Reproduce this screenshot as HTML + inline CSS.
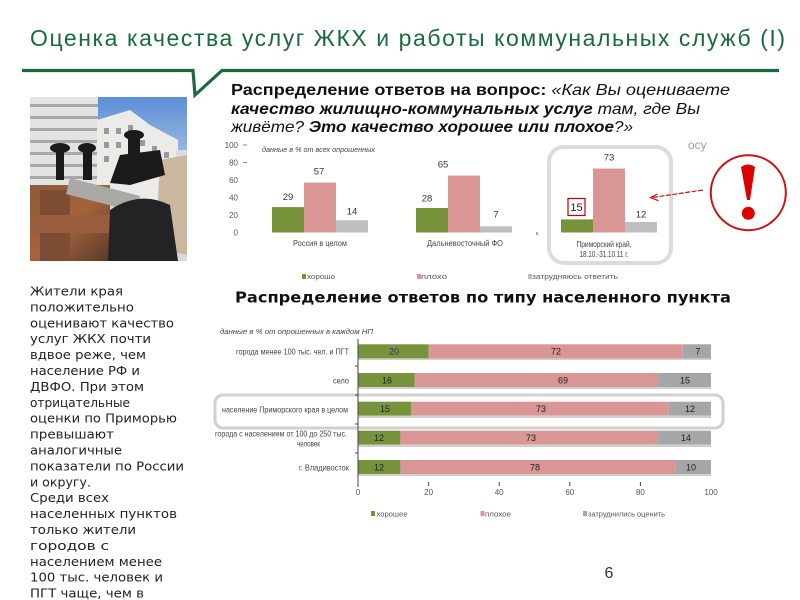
<!DOCTYPE html>
<html><head><meta charset="utf-8"><style>
html,body{margin:0;padding:0;background:#fff;}
svg{display:block;}
</style></head><body>
<svg width="800" height="600" viewBox="0 0 800 600" xmlns="http://www.w3.org/2000/svg" font-family="'Liberation Sans', 'DejaVu Sans', sans-serif">
<rect width="800" height="600" fill="#fff"/>

<!-- Title -->
<text x="30" y="46" font-size="23" fill="#1a6b3c" textLength="755" lengthAdjust="spacing">Оценка качества услуг ЖКХ и работы коммунальных служб (I)</text>

<!-- green line with notch -->
<polyline points="22,70.5 193,70.5 195,95 222,70.5 779,70.5" fill="none" stroke="#1c6b3c" stroke-width="3.2" stroke-linejoin="miter"/>

<!-- Subtitle -->
<text x="231" y="95" font-size="16" fill="#111" textLength="499" lengthAdjust="spacingAndGlyphs"><tspan font-weight="bold">Распределение ответов на вопрос:</tspan><tspan font-style="italic"> «Как Вы оцениваете</tspan></text>
<text x="231" y="114" font-size="16" fill="#111" textLength="469" lengthAdjust="spacingAndGlyphs"><tspan font-weight="bold" font-style="italic">качество жилищно-коммунальных услуг</tspan><tspan font-style="italic"> там, где Вы</tspan></text>
<text x="231" y="132" font-size="16" fill="#111" textLength="402" lengthAdjust="spacingAndGlyphs"><tspan font-style="italic">живёте? </tspan><tspan font-weight="bold" font-style="italic">Это качество хорошее или плохое</tspan><tspan font-style="italic">?»</tspan></text>

<!-- Photo -->
<defs><clipPath id="ph"><rect x="30" y="97" width="157" height="164"/></clipPath>
<linearGradient id="sky" x1="0" y1="0" x2="0" y2="1"><stop offset="0" stop-color="#5d8fd6"/><stop offset="1" stop-color="#9cbbe3"/></linearGradient>
<linearGradient id="rust" x1="0" y1="0" x2="1" y2="1"><stop offset="0" stop-color="#8a5a3c"/><stop offset="0.5" stop-color="#a5633c"/><stop offset="1" stop-color="#5a3a2a"/></linearGradient>
</defs>
<g clip-path="url(#ph)">
<rect x="30" y="97" width="157" height="164" fill="#d8d8d8"/>
<rect x="97" y="97" width="90" height="60" fill="url(#sky)"/>
<!-- left building -->
<rect x="30" y="97" width="68" height="115" fill="#e3e3e1"/>
<g fill="#a8a8a8">
<rect x="30" y="104" width="68" height="3"/><rect x="30" y="116" width="68" height="3"/><rect x="30" y="128" width="68" height="3"/><rect x="30" y="140" width="68" height="3"/><rect x="30" y="152" width="68" height="3"/><rect x="30" y="164" width="68" height="3"/><rect x="30" y="176" width="68" height="3"/>
</g>
<!-- right building -->
<polygon points="97,120 130,110 150,125 178,140 178,200 97,200" fill="#ecebe8"/>
<g fill="#9a9a9e">
<rect x="104" y="128" width="5" height="6"/><rect x="116" y="128" width="5" height="6"/><rect x="128" y="125" width="5" height="6"/><rect x="104" y="142" width="5" height="6"/><rect x="116" y="142" width="5" height="6"/><rect x="140" y="140" width="5" height="6"/><rect x="152" y="146" width="5" height="6"/><rect x="164" y="152" width="5" height="6"/><rect x="104" y="156" width="5" height="6"/><rect x="152" y="160" width="5" height="6"/><rect x="164" y="166" width="5" height="6"/>
</g>
<rect x="176" y="150" width="11" height="50" fill="#dcdcdc"/>
<!-- insulation -->
<polygon points="160,160 187,155 187,255 165,250 158,200" fill="#c9b7a0"/>
<!-- valves -->
<g fill="#1a1a1a">
<ellipse cx="60" cy="148" rx="10" ry="5"/><rect x="56" y="148" width="8" height="32"/>
<ellipse cx="87" cy="148" rx="9" ry="5"/><rect x="83" y="148" width="9" height="32"/>
<ellipse cx="134" cy="135" rx="10" ry="5"/><rect x="128" y="135" width="12" height="25"/>
<polygon points="120,155 160,150 165,175 130,185 110,183"/>
</g>
<!-- rusty pipes -->
<rect x="30" y="185" width="80" height="76" fill="url(#rust)"/>
<rect x="40" y="190" width="30" height="71" fill="#7e4c33"/>
<rect x="30" y="215" width="80" height="18" fill="#9a5e3e"/>
<!-- gray pipe -->
<polygon points="70,178 140,196 136,212 66,194" fill="#a9a9a6"/>
<!-- big black pipe -->
<path d="M110,210 Q140,190 170,205 L178,261 L108,261 Z" fill="#232325"/>
</g>

<!-- Left paragraph -->
<g font-family="'DejaVu Sans', 'Liberation Sans', sans-serif" font-size="12.5" fill="#222">
<text x="30" y="295.5" textLength="93" lengthAdjust="spacingAndGlyphs">Жители края</text>
<text x="30" y="311.4" textLength="104" lengthAdjust="spacingAndGlyphs">положительно</text>
<text x="30" y="327.3" textLength="144" lengthAdjust="spacingAndGlyphs">оценивают качество</text>
<text x="30" y="343.2" textLength="121" lengthAdjust="spacingAndGlyphs">услуг ЖКХ почти</text>
<text x="30" y="359.1" textLength="116" lengthAdjust="spacingAndGlyphs">вдвое реже, чем</text>
<text x="30" y="375" textLength="110" lengthAdjust="spacingAndGlyphs">население РФ и</text>
<text x="30" y="390.9" textLength="114" lengthAdjust="spacingAndGlyphs">ДВФО. При этом</text>
<text x="30" y="406.8" textLength="100" lengthAdjust="spacingAndGlyphs">отрицательные</text>
<text x="30" y="422.7" textLength="147" lengthAdjust="spacingAndGlyphs">оценки по Приморью</text>
<text x="30" y="438.6" textLength="84" lengthAdjust="spacingAndGlyphs">превышают</text>
<text x="30" y="454.5" textLength="92" lengthAdjust="spacingAndGlyphs">аналогичные</text>
<text x="30" y="470.4" textLength="154" lengthAdjust="spacingAndGlyphs">показатели по России</text>
<text x="30" y="486.3" textLength="61" lengthAdjust="spacingAndGlyphs">и округу.</text>
<text x="30" y="502.2" textLength="79" lengthAdjust="spacingAndGlyphs">Среди всех</text>
<text x="30" y="518.1" textLength="147" lengthAdjust="spacingAndGlyphs">населенных пунктов</text>
<text x="30" y="534" textLength="106" lengthAdjust="spacingAndGlyphs">только жители</text>
<text x="30" y="549.9" textLength="79" lengthAdjust="spacingAndGlyphs">городов с</text>
<text x="30" y="565.8" textLength="132" lengthAdjust="spacingAndGlyphs">населением менее</text>
<text x="30" y="581.7" textLength="133" lengthAdjust="spacingAndGlyphs">100 тыс. человек и</text>
<text x="30" y="597.6" textLength="114" lengthAdjust="spacingAndGlyphs">ПГТ чаще, чем в</text>
</g>

<!-- Top chart -->
<rect x="549" y="147" width="122" height="116" rx="15" ry="15" fill="#fff" stroke="#dcdcdc" stroke-width="4"/>
<g font-size="8" fill="#555" text-anchor="end">
<text x="238" y="148">100</text><text x="238" y="165.5">80</text><text x="238" y="183">60</text><text x="238" y="200.5">40</text><text x="238" y="218">20</text><text x="238" y="235.5">0</text>
</g>
<line x1="243" y1="145" x2="247" y2="145" stroke="#666" stroke-width="0.8"/>
<line x1="243" y1="162.5" x2="247" y2="162.5" stroke="#666" stroke-width="0.8"/>
<text x="262" y="152" font-size="7.5" font-style="italic" fill="#444" textLength="113" lengthAdjust="spacingAndGlyphs">данные в % от всех опрошенных</text>

<!-- group 1 -->
<rect x="272" y="207.1" width="32" height="25.4" fill="#77933c"/>
<rect x="304" y="182.6" width="32" height="49.9" fill="#d99694"/>
<rect x="336" y="220.2" width="32" height="12.3" fill="#bfbfbf"/>
<!-- group 2 -->
<rect x="416" y="208" width="32" height="24.5" fill="#77933c"/>
<rect x="448" y="175.6" width="32" height="56.9" fill="#d99694"/>
<rect x="480" y="226.4" width="32" height="6.1" fill="#bfbfbf"/>
<!-- group 3 -->
<rect x="561" y="219.4" width="32" height="13.1" fill="#77933c"/>
<rect x="593" y="168.6" width="32" height="63.9" fill="#d99694"/>
<rect x="625" y="222" width="32" height="10.5" fill="#bfbfbf"/>

<g font-size="9.5" fill="#333" text-anchor="middle">
<text x="288" y="200">29</text><text x="319" y="174.5">57</text><text x="352" y="214.5">14</text>
<text x="427" y="201.5">28</text><text x="443" y="167.5">65</text><text x="496" y="217.5">7</text>
<text x="609" y="160.5">73</text><text x="641" y="217.5">12</text>
</g>
<rect x="568" y="198.5" width="17" height="17" fill="#fff" stroke="#c00000" stroke-width="1.2"/>
<text x="576.5" y="211" font-size="11" fill="#222" text-anchor="middle">15</text>

<g font-size="8" fill="#444" text-anchor="middle">
<text x="320" y="246" textLength="54" lengthAdjust="spacingAndGlyphs">Россия в целом</text>
<text x="465" y="246" textLength="76" lengthAdjust="spacingAndGlyphs">Дальневосточный ФО</text>
<text x="604" y="247" textLength="55" lengthAdjust="spacingAndGlyphs">Приморский край,</text>
<text x="604" y="257" textLength="49" lengthAdjust="spacingAndGlyphs">18.10.-31.10.11 г.</text>
</g>
<rect x="536.5" y="232" width="1" height="3" fill="#555"/>

<!-- top legend -->
<rect x="302" y="274" width="4" height="5" fill="#77933c"/>
<text x="307" y="279" font-size="7.5" fill="#555" textLength="28" lengthAdjust="spacingAndGlyphs">хорошо</text>
<rect x="417" y="274" width="4" height="5" fill="#d99694"/>
<text x="421" y="279" font-size="7.5" fill="#555" textLength="26" lengthAdjust="spacingAndGlyphs">плохо</text>
<rect x="528" y="274" width="4" height="5" fill="#bfbfbf"/>
<text x="532" y="279" font-size="7.5" fill="#555" textLength="86" lengthAdjust="spacingAndGlyphs">затрудняюсь ответить</text>

<text x="688" y="149" font-size="12" fill="#999">осу</text>

<!-- Exclamation -->
<circle cx="748.3" cy="192.7" r="37.5" fill="#fff" stroke="#cc1111" stroke-width="2"/>
<path d="M741,167 Q748,162 755,167 L750,200 L747,200 Z" fill="#dd0000"/>
<circle cx="748.3" cy="213.3" r="6.5" fill="#dd0000"/>
<!-- arrow -->
<line x1="703" y1="190" x2="651" y2="197.7" stroke="#cc1111" stroke-width="1.2" stroke-dasharray="5,1.5"/>
<polyline points="657.5,194 650.5,197.7 658.5,200.7" fill="none" stroke="#cc1111" stroke-width="1.2"/>

<!-- Section 2 header -->
<text x="235" y="302.5" font-family="'DejaVu Sans', 'Liberation Sans', sans-serif" font-size="15" font-weight="bold" fill="#111" textLength="496" lengthAdjust="spacingAndGlyphs">Распределение ответов по типу населенного пункта</text>

<!-- Horizontal chart -->
<text x="220" y="334" font-size="7.5" font-style="italic" fill="#444" textLength="153" lengthAdjust="spacingAndGlyphs">данные в % от опрошенных в каждом НП</text>

<rect x="215" y="395" width="508" height="33" rx="8" ry="8" fill="#fff" stroke="#d0d0d0" stroke-width="3"/>

<g fill="#cfcfcf">
<rect x="358" y="358" width="353" height="2"/>
<rect x="358" y="387" width="353" height="2"/>
<rect x="358" y="416" width="353" height="2"/>
<rect x="358" y="445" width="353" height="2"/>
<rect x="358" y="474" width="353" height="2"/>
</g>
<!-- row1 -->
<rect x="358" y="344.3" width="70.6" height="14" fill="#77933c"/>
<rect x="428.6" y="344.3" width="254.2" height="14" fill="#d99694"/>
<rect x="682.8" y="344.3" width="28.2" height="14" fill="#a6a6a6"/>
<!-- row2 -->
<rect x="358" y="373" width="56.5" height="14" fill="#77933c"/>
<rect x="414.5" y="373" width="243.6" height="14" fill="#d99694"/>
<rect x="658.1" y="373" width="52.9" height="14" fill="#a6a6a6"/>
<!-- row3 -->
<rect x="358" y="401.7" width="53" height="14" fill="#77933c"/>
<rect x="411" y="401.7" width="257.7" height="14" fill="#d99694"/>
<rect x="668.7" y="401.7" width="42.3" height="14" fill="#a6a6a6"/>
<!-- row4 -->
<rect x="358" y="430.7" width="42.4" height="14" fill="#77933c"/>
<rect x="400.4" y="430.7" width="257.7" height="14" fill="#d99694"/>
<rect x="658.1" y="430.7" width="52.9" height="14" fill="#a6a6a6"/>
<!-- row5 -->
<rect x="358" y="460" width="42.4" height="14" fill="#77933c"/>
<rect x="400.4" y="460" width="275.3" height="14" fill="#d99694"/>
<rect x="675.7" y="460" width="35.3" height="14" fill="#a6a6a6"/>

<!-- axes -->
<line x1="358" y1="339" x2="358" y2="487" stroke="#444" stroke-width="1"/>
<g stroke="#444" stroke-width="1">
<line x1="355" y1="366" x2="358" y2="366"/><line x1="355" y1="395" x2="358" y2="395"/><line x1="355" y1="424" x2="358" y2="424"/><line x1="355" y1="453" x2="358" y2="453"/>
<line x1="428.6" y1="482" x2="428.6" y2="486"/><line x1="499.2" y1="482" x2="499.2" y2="486"/><line x1="569.8" y1="482" x2="569.8" y2="486"/><line x1="640.4" y1="482" x2="640.4" y2="486"/>
</g>
<g font-size="8" fill="#555" text-anchor="middle">
<text x="358" y="495">0</text><text x="428.6" y="495">20</text><text x="499.2" y="495">40</text><text x="569.8" y="495">60</text><text x="640.4" y="495">80</text><text x="711" y="495">100</text>
</g>

<!-- row labels -->
<g font-size="8" fill="#444" text-anchor="end">
<text x="349" y="354.5" textLength="113" lengthAdjust="spacingAndGlyphs">города менее 100 тыс. чел. и ПГТ</text>
<text x="349" y="383.5" textLength="16" lengthAdjust="spacingAndGlyphs">село</text>
<text x="348" y="412.5" textLength="126" lengthAdjust="spacingAndGlyphs">население Приморского края в целом</text>
<text x="347" y="436.5" textLength="132" lengthAdjust="spacingAndGlyphs">города с населением от 100 до 250 тыс.</text>
<text x="320" y="446.5" textLength="23" lengthAdjust="spacingAndGlyphs">человек</text>
<text x="349" y="470.5" textLength="50" lengthAdjust="spacingAndGlyphs">г. Владивосток</text>
</g>

<!-- values -->
<g font-size="9" fill="#222" text-anchor="middle">
<text x="394" y="354.5" fill="#1f3864">20</text><text x="556" y="354.5">72</text><text x="698" y="354.5">7</text>
<text x="387" y="383.5">16</text><text x="563" y="383.5">69</text><text x="685" y="383.5">15</text>
<text x="385" y="412">15</text><text x="541" y="412">73</text><text x="690" y="412">12</text>
<text x="379" y="441">12</text><text x="531" y="441">73</text><text x="686" y="441">14</text>
<text x="379" y="470.5">12</text><text x="535" y="470.5">78</text><text x="691" y="470.5">10</text>
</g>

<!-- bottom legend -->
<rect x="371" y="511" width="4" height="5" fill="#77933c"/>
<text x="376.5" y="516.5" font-size="7.5" fill="#555" textLength="31" lengthAdjust="spacingAndGlyphs">хорошее</text>
<rect x="480.5" y="511" width="4" height="5" fill="#d99694"/>
<text x="485" y="516.5" font-size="7.5" fill="#555" textLength="26" lengthAdjust="spacingAndGlyphs">плохое</text>
<rect x="583" y="511" width="4" height="5" fill="#a6a6a6"/>
<text x="588" y="516.5" font-size="7.5" fill="#555" textLength="77" lengthAdjust="spacingAndGlyphs">затруднились оценить</text>

<!-- page number -->
<text x="609" y="578" font-size="16" fill="#333" text-anchor="middle">6</text>
</svg>
</body></html>
